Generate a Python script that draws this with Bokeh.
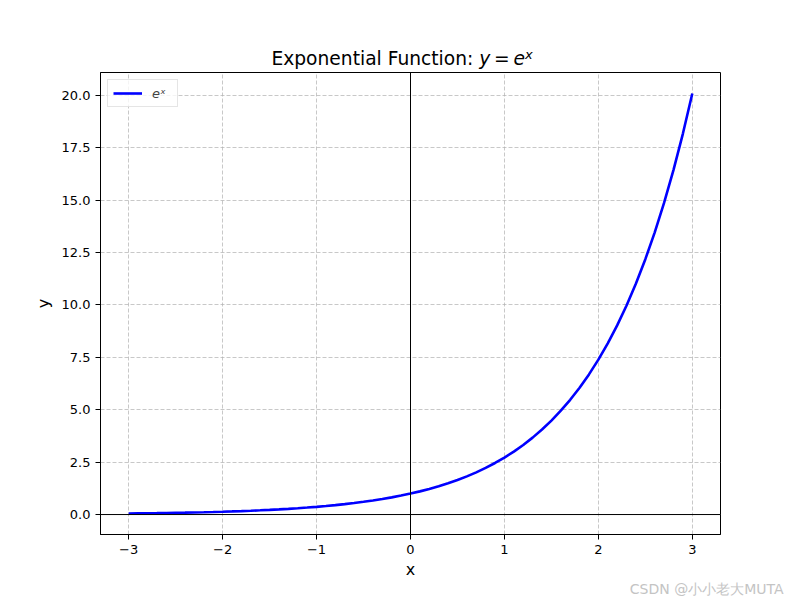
from bokeh.plotting import figure
from bokeh.models import Range1d, FixedTicker, Span, Legend, LegendItem, Title, Div
from bokeh.layouts import column
from bokeh.embed import file_html
from bokeh.resources import INLINE

x_vals = [-3.0, -2.9, -2.8, -2.7, -2.6, -2.5, -2.4, -2.3, -2.2, -2.1,
          -2.0, -1.9, -1.8, -1.7, -1.6, -1.5, -1.4, -1.3, -1.2, -1.1,
          -1.0, -0.9, -0.8, -0.7, -0.6, -0.5, -0.4, -0.3, -0.2, -0.1,
          0.0, 0.1, 0.2, 0.3, 0.4, 0.5, 0.6, 0.7, 0.8, 0.9,
          1.0, 1.1, 1.2, 1.3, 1.4, 1.5, 1.6, 1.7, 1.8, 1.9,
          2.0, 2.1, 2.2, 2.3, 2.4, 2.5, 2.6, 2.7, 2.8, 2.9, 3.0]
y_vals = [0.0498, 0.0550, 0.0608, 0.0672, 0.0743, 0.0821, 0.0907, 0.1003, 0.1108, 0.1225,
          0.1353, 0.1496, 0.1653, 0.1827, 0.2019, 0.2231, 0.2466, 0.2725, 0.3012, 0.3329,
          0.3679, 0.4066, 0.4493, 0.4966, 0.5488, 0.6065, 0.6703, 0.7408, 0.8187, 0.9048,
          1.0000, 1.1052, 1.2214, 1.3499, 1.4918, 1.6487, 1.8221, 2.0138, 2.2255, 2.4596,
          2.7183, 3.0042, 3.3201, 3.6693, 4.0552, 4.4817, 4.9530, 5.4739, 6.0496, 6.6859,
          7.3891, 8.1662, 9.0250, 9.9742, 11.0232, 12.1825, 13.4637, 14.8797, 16.4446, 18.1741,
          20.0855]

x_ticks = [-3, -2, -1, 0, 1, 2, 3]
x_tick_labels = ["\u22123", "\u22122", "\u22121", "0", "1", "2", "3"]
y_ticks = [0, 2.5, 5, 7.5, 10, 12.5, 15, 17.5, 20]
y_tick_labels = ["0.0", "2.5", "5.0", "7.5", "10.0", "12.5", "15.0", "17.5", "20.0"]

FONT = "DejaVu Sans"

xmin, xmax = min(x_vals), max(x_vals)
ymin, ymax = min(y_vals), max(y_vals)
xm = (xmax - xmin) * 0.05
ym = (ymax - ymin) * 0.05

title_html = (
    '<div style="font-family:\'DejaVu Sans\'; font-size:18.67px; line-height:22px; color:black; '
    'text-align:center; width:780px; margin-left:12px; padding-top:48px; white-space:nowrap;">'
    'Exponential Function: <i>y</i>&thinsp;=&thinsp;<i>e</i>'
    '<span style="font-size:13px; font-style:italic; position:relative; top:-6px;">x</span>'
    '</div>'
)
title_div = Div(text=title_html, width=800, height=70, margin=0)

p = figure(width=800, height=530, output_backend="svg", toolbar_location=None,
           x_range=Range1d(xmin - xm, xmax + xm), y_range=Range1d(ymin - ym, ymax + ym),
           min_border_left=100, min_border_right=80, min_border_top=2, min_border_bottom=66,
           margin=0)
p.background_fill_color = "white"
p.border_fill_color = "white"
p.outline_line_color = "black"
p.outline_line_width = 1

for ax, ticks, labels in ((p.xaxis[0], x_ticks, x_tick_labels), (p.yaxis[0], y_ticks, y_tick_labels)):
    ax.ticker = FixedTicker(ticks=ticks)
    ax.major_label_overrides = {t: l for t, l in zip(ticks, labels)}
    ax.major_tick_out = 5
    ax.major_tick_in = 0
    ax.minor_tick_line_color = None
    ax.axis_line_color = "black"
    ax.major_tick_line_color = "black"
    ax.major_label_text_font = FONT
    ax.major_label_text_font_size = "13px"
    ax.major_label_text_color = "black"
    ax.major_label_standoff = 5
    ax.axis_label_text_font = FONT
    ax.axis_label_text_font_size = "16px"
    ax.axis_label_text_font_style = "normal"
    ax.axis_label_text_color = "black"
    ax.axis_label_standoff = 6

p.xaxis.axis_label = "x"
p.yaxis.axis_label = "y"
p.xaxis[0].axis_label_standoff = 3

for g in (p.xgrid[0], p.ygrid[0]):
    g.grid_line_color = "#b0b0b0"
    g.grid_line_alpha = 0.7
    g.grid_line_dash = "4 2"
    g.grid_line_width = 1

p.add_layout(Span(location=0, dimension="height", line_color="black", line_width=1))
p.add_layout(Span(location=0, dimension="width", line_color="black", line_width=1))

r = p.line(x_vals, y_vals, line_color="blue", line_width=2.6)

legend = Legend(items=[LegendItem(label="e\u02e3", renderers=[r])], location="top_left")
legend.margin = 7
legend.padding = 5
legend.spacing = 0
legend.glyph_width = 29
legend.glyph_height = 16
legend.label_height = 16
legend.label_standoff = 10
legend.label_text_font = FONT
legend.label_text_font_style = "italic"
legend.label_text_font_size = "13px"
legend.border_line_color = "#cccccc"
legend.border_line_width = 1
legend.background_fill_alpha = 0.8
p.add_layout(legend)

watermark = Title(text="CSDN @小小老大MUTA", align="right", offset=-63,
                  text_font=FONT, text_font_size="14px",
                  text_font_style="normal", text_color="#c4c4c4", standoff=-5)
p.add_layout(watermark, "below")

layout = column(title_div, p, spacing=0, margin=0)

open("out.html", "w").write(file_html(layout, INLINE))
